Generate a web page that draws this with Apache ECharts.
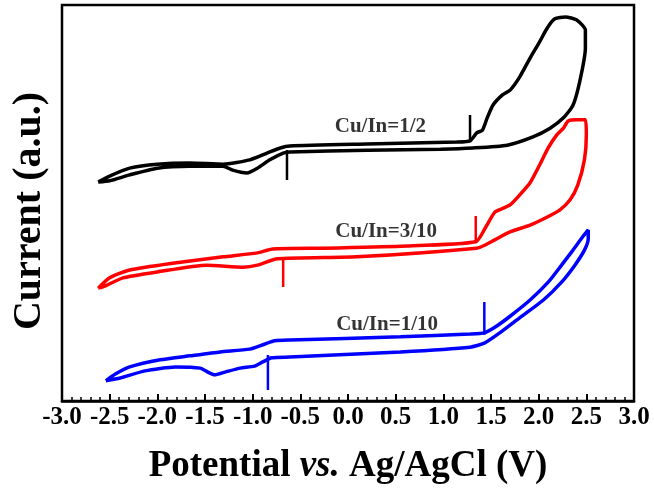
<!DOCTYPE html>
<html>
<head>
<meta charset="utf-8">
<script src="https://cdn.jsdelivr.net/npm/echarts@6/dist/echarts.min.js"></script>
<style>
  html, body { margin: 0; padding: 0; background: #fff; }
  #chart { width: 654px; height: 492px; }
</style>
</head>
<body>
<div id="chart"></div>
<script>
// Cyclic voltammograms, potential (V vs. Ag/AgCl) against current (a.u., curves offset)
const xTicks = { min: -3.0, max: 3.0, step: 0.5 };

// Cu/In = 1/2 : one closed scan [E, I]
const scanHalf = [
  [-2.62, 5.53], [-2.50, 5.68], [-2.29, 5.88], [-2.00, 5.98], [-1.66, 6.01],
  [-1.31, 5.98], [-1.03, 6.09], [-0.85, 6.26], [-0.71, 6.39], [-0.61, 6.44],
  [0.20, 6.49], [1.14, 6.54], [1.28, 6.57], [1.35, 6.77], [1.41, 6.84],
  [1.46, 7.15], [1.52, 7.47], [1.62, 7.73], [1.70, 7.85], [1.80, 8.18],
  [1.91, 8.66], [2.01, 9.07], [2.09, 9.42], [2.17, 9.65], [2.28, 9.70],
  [2.40, 9.62], [2.49, 9.37], [2.49, 8.91], [2.43, 8.06], [2.36, 7.47],
  [2.26, 7.15], [2.12, 6.89], [1.94, 6.67], [1.67, 6.46], [1.31, 6.39],
  [0.97, 6.36], [0.20, 6.33], [-0.61, 6.29], [-0.68, 6.26], [-0.82, 6.09],
  [-0.95, 5.88], [-1.06, 5.76], [-1.21, 5.83], [-1.31, 5.93], [-1.66, 5.93],
  [-2.00, 5.88], [-2.29, 5.71], [-2.50, 5.56], [-2.62, 5.53]
];

// Cu/In = 3/10
const scanThreeTenths = [
  [-2.62, 2.85], [-2.50, 3.11], [-2.29, 3.31], [-1.84, 3.48], [-1.31, 3.64],
  [-0.95, 3.74], [-0.79, 3.84], [-0.26, 3.86], [0.55, 3.91], [1.34, 4.02],
  [1.44, 4.37], [1.54, 4.77], [1.63, 4.87], [1.70, 4.95], [1.80, 5.20],
  [1.91, 5.51], [2.01, 5.96], [2.10, 6.39], [2.19, 6.72], [2.26, 6.89],
  [2.31, 7.07], [2.40, 7.10], [2.49, 7.10], [2.50, 6.72], [2.48, 6.09],
  [2.41, 5.45], [2.33, 5.08], [2.22, 4.82], [2.07, 4.62], [1.91, 4.44],
  [1.70, 4.27], [1.54, 4.07], [1.44, 3.94], [1.35, 3.86], [0.09, 3.64],
  [-0.74, 3.59], [-0.95, 3.43], [-1.10, 3.38], [-1.48, 3.43], [-2.00, 3.26],
  [-2.36, 3.11], [-2.57, 2.88], [-2.62, 2.85]
];

// Cu/In = 1/10
const scanOneTenth = [
  [-2.54, 0.51], [-2.44, 0.68], [-2.29, 0.86], [-1.97, 1.04], [-1.66, 1.14],
  [-1.34, 1.24], [-1.03, 1.31], [-0.87, 1.44], [-0.77, 1.52], [-0.61, 1.54],
  [0.55, 1.62], [1.28, 1.69], [1.43, 1.72], [1.54, 1.86], [1.70, 2.14],
  [1.91, 2.55], [2.10, 3.00], [2.24, 3.43], [2.36, 3.81], [2.46, 4.14],
  [2.52, 4.32], [2.52, 4.10], [2.48, 3.81], [2.38, 3.43], [2.24, 3.00],
  [2.05, 2.55], [1.80, 2.10], [1.58, 1.70], [1.43, 1.46], [1.28, 1.36],
  [0.55, 1.24], [-0.61, 1.11], [-0.80, 1.09], [-0.90, 0.98], [-0.98, 0.88],
  [-1.13, 0.83], [-1.29, 0.73], [-1.40, 0.66], [-1.47, 0.73], [-1.55, 0.83],
  [-1.81, 0.86], [-2.13, 0.76], [-2.39, 0.58], [-2.54, 0.51]
];

// Vertical marks at the onset potentials: [E, I_top, I_bottom]
const marksHalf = [[1.28, 7.22, 6.54], [-0.64, 6.34, 5.58]];
const marksThreeTenths = [[1.34, 4.67, 3.99], [-0.68, 3.61, 2.88]];
const marksOneTenth = [[1.43, 2.50, 1.67], [-0.84, 1.16, 0.28]];

// Sample names and where they sit [E, I]
const sampleNames = ['Cu/In=1/2', 'Cu/In=3/10', 'Cu/In=1/10'];
const namePositions = [[0.34, 6.92], [0.40, 4.29], [0.41, 1.94]];

const colors = ['#000000', '#ff0000', '#0000ff'];
const scans = [scanHalf, scanThreeTenths, scanOneTenth];
const marks = [marksHalf, marksThreeTenths, marksOneTenth];

const serif = "'Liberation Serif', 'Times New Roman', serif";

const series = [];
scans.forEach((scan, i) => {
  series.push({
    type: 'line',
    data: scan,
    showSymbol: false,
    smooth: 0.2,
    lineStyle: { color: colors[i], width: 3.5 },
    silent: true,
    z: 3
  });
  marks[i].forEach(m => {
    series.push({
      type: 'line',
      data: [[m[0], m[1]], [m[0], m[2]]],
      showSymbol: false,
      lineStyle: { color: colors[i], width: 2.5 },
      silent: true,
      z: 4
    });
  });
});
series.push({
  type: 'scatter',
  data: namePositions.map((p, i) => ({ value: p, name: sampleNames[i] })),
  symbolSize: 1,
  itemStyle: { color: 'transparent' },
  label: {
    show: true,
    position: 'inside',
    formatter: p => p.name,
    color: '#000',
    fontFamily: serif,
    fontWeight: 'bold',
    fontSize: 21
  },
  silent: true,
  z: 5
});

const chart = echarts.init(document.getElementById('chart'));
chart.setOption({
  animation: false,
  backgroundColor: '#fff',
  grid: {
    left: 62, right: 20, top: 5, bottom: 91,
    show: true, borderColor: '#000', borderWidth: 2.5
  },
  xAxis: {
    type: 'value',
    min: xTicks.min, max: xTicks.max, interval: xTicks.step,
    axisLine: { lineStyle: { color: '#000', width: 2.5 } },
    axisTick: { inside: true, length: 7, lineStyle: { color: '#000', width: 2 } },
    minorTick: { show: true, splitNumber: 5, length: 4, lineStyle: { color: '#000', width: 1.5 } },
    splitLine: { show: false },
    axisLabel: {
      formatter: v => v.toFixed(1),
      color: '#000', fontFamily: serif, fontWeight: 'bold', fontSize: 25, margin: 4
    },
    name: '{n|Potential }{i|vs.}{n| Ag/AgCl (V)}',
    nameLocation: 'middle',
    nameGap: 47,
    nameTextStyle: {
      rich: {
        n: { fontFamily: serif, fontWeight: 'bold', fontSize: 37, color: '#000' },
        i: { fontFamily: serif, fontWeight: 'bold', fontStyle: 'italic', fontSize: 37, color: '#000' }
      }
    }
  },
  yAxis: {
    type: 'value',
    min: 0, max: 10,
    axisLine: { show: false },
    axisTick: { show: false },
    axisLabel: { show: false },
    splitLine: { show: false }
  },
  graphic: [{
    type: 'text',
    x: 30, y: 211,
    rotation: Math.PI / 2,
    style: {
      text: 'Current (a.u.)',
      fontFamily: serif, fontWeight: 'bold', fontSize: 40,
      fill: '#000', align: 'center', verticalAlign: 'middle'
    }
  }],
  series: series
});
</script>
</body>
</html>
